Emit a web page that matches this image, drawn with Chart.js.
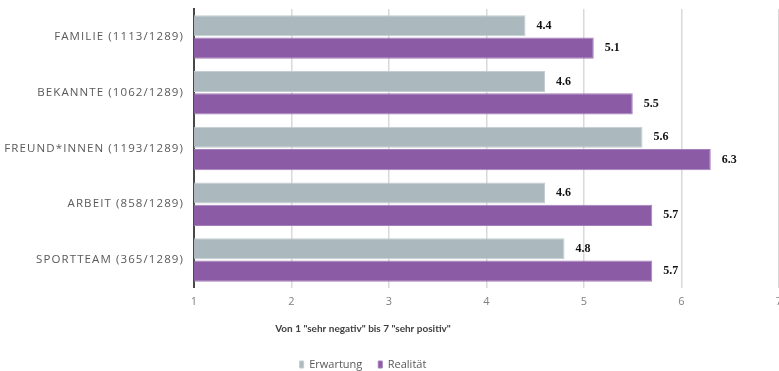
<!DOCTYPE html>
<html>
<head>
<meta charset="utf-8">
<script src="https://cdn.jsdelivr.net/npm/chart.js@4/dist/chart.umd.min.js"></script>
<style>
  html, body { margin: 0; padding: 0; background: #fff; overflow: hidden; width: 779px; height: 371px; }
  #wrap { position: absolute; left: -53px; top: 0; }
</style>
</head>
<body>
<div id="wrap"><canvas id="c" width="900" height="380" style="width:900px;height:380px"></canvas></div>
<script>
// Bewertung je Kontaktgruppe: erwartete vs. erlebte Reaktion (Skala 1–7)
const categories = ['FAMILIE (1113/1289)', 'BEKANNTE (1062/1289)', 'FREUND*INNEN (1193/1289)', 'ARBEIT (858/1289)', 'SPORTTEAM (365/1289)'];
const erwartung = [4.4, 4.6, 5.6, 4.6, 4.8];
const realitaet = [5.1, 5.5, 6.3, 5.7, 5.7];
const seriesNames = ['Erwartung', 'Realität'];
const scaleMin = 1;
const scaleMax = 7;
const axisTitle = 'Von 1 "sehr negativ" bis 7 "sehr positiv"';

const labelFont = '"Open Sans", "Liberation Sans", sans-serif';

// writes each bar's value just past its end
const valueLabels = {
  id: 'valueLabels',
  afterDatasetsDraw(chart) {
    const ctx = chart.ctx;
    ctx.save();
    ctx.font = 'bold 12px "Liberation Serif", "DejaVu Serif", serif';
    ctx.fillStyle = '#111111';
    ctx.textAlign = 'left';
    ctx.textBaseline = 'middle';
    chart.data.datasets.forEach((ds, i) => {
      chart.getDatasetMeta(i).data.forEach((bar, j) => {
        ctx.fillText(ds.data[j].toFixed(1), bar.x + 11, bar.y);
      });
    });
    ctx.restore();
  }
};

// category names of the y axis, set with a little letter spacing
const categoryLabels = {
  id: 'categoryLabels',
  afterDraw(chart) {
    const yScale = chart.scales.y;
    const ctx = chart.ctx;
    ctx.save();
    ctx.font = '11.5px ' + labelFont;
    ctx.letterSpacing = '1.1px';
    ctx.fillStyle = '#595959';
    ctx.textAlign = 'right';
    ctx.textBaseline = 'middle';
    yScale.ticks.forEach((t, i) => {
      ctx.fillText(yScale.getLabelForValue(t.value), yScale.right - 10, yScale.getPixelForTick(i));
    });
    ctx.restore();
  }
};

new Chart(document.getElementById('c'), {
  type: 'bar',
  data: {
    labels: categories,
    datasets: [
      {
        label: seriesNames[0],
        data: erwartung,
        backgroundColor: '#abb8bd',
        borderColor: '#c3ced2',
        borderWidth: 1,
        categoryPercentage: 0.8,
        barPercentage: 0.95
      },
      {
        label: seriesNames[1],
        data: realitaet,
        backgroundColor: '#8b5ca5',
        borderColor: '#a47fbb',
        borderWidth: 1,
        categoryPercentage: 0.8,
        barPercentage: 0.95
      }
    ]
  },
  options: {
    indexAxis: 'y',
    responsive: false,
    animation: false,
    devicePixelRatio: 1,
    layout: { padding: { top: 9, right: 68, bottom: 0, left: 0 } },
    scales: {
      x: {
        type: 'linear',
        min: scaleMin,
        max: scaleMax,
        ticks: { stepSize: 1, color: '#808080', font: { family: labelFont, size: 11 }, padding: 7 },
        grid: { color: '#d9d9d9', lineWidth: 1.5, drawTicks: false },
        border: { display: false }
      },
      y: {
        ticks: { display: false },
        grid: { display: false, drawTicks: false },
        border: { display: true, color: '#484848', width: 2 },
        afterFit(scale) { scale.width = 247; }
      }
    },
    plugins: {
      title: {
        display: true,
        text: axisTitle,
        position: 'bottom',
        weight: 500,
        color: '#404040',
        font: { family: 'Lato, "Liberation Sans", sans-serif', size: 10, weight: 'bold' },
        padding: { top: 8, bottom: 8 }
      },
      legend: {
        position: 'bottom',
        labels: {
          boxWidth: 4,
          boxHeight: 7,
          color: '#595959',
          font: { family: labelFont, size: 11 },
          padding: 16
        }
      },
      tooltip: { enabled: false }
    }
  },
  plugins: [valueLabels, categoryLabels]
});
</script>
</body>
</html>
